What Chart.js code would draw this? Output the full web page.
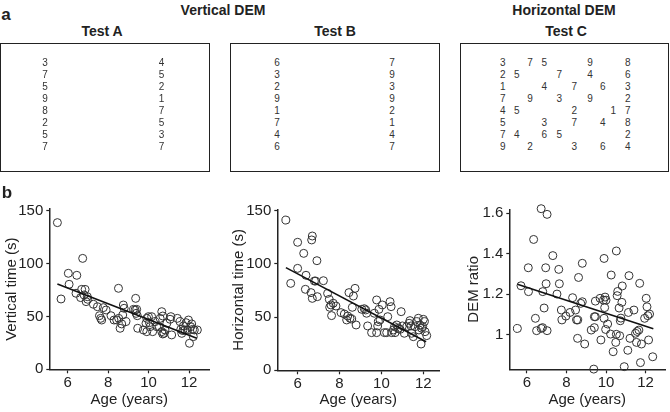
<!DOCTYPE html>
<html>
<head>
<meta charset="utf-8">
<script src="https://cdn.jsdelivr.net/npm/chart.js@4.4.0/dist/chart.umd.min.js"></script>
<style>
  body { margin: 0; background: #fff; }
  #fig { position: relative; width: 670px; height: 412px; overflow: hidden; font-family: "Liberation Sans", Arial, sans-serif; color: #222; }
  .lbl { position: absolute; transform: translate(-50%, -50%); white-space: nowrap; line-height: 1; }
  .panel { font-weight: bold; font-size: 17px; }
  .head { font-weight: bold; font-size: 14px; }
  .dig { font-size: 10px; color: #333; }
  .box { position: absolute; border: 1.5px solid #222; box-sizing: border-box; }
  canvas { position: absolute; }
</style>
</head>
<body>
<div id="fig">
  <canvas id="cvV" width="215" height="217" style="left:0px;top:195px"></canvas>
  <canvas id="cvH" width="220" height="217" style="left:225px;top:195px"></canvas>
  <canvas id="cvR" width="215" height="217" style="left:455px;top:195px"></canvas>
</div>
<script>
// ---- panel a: digit sheets ----
const testA = [[3,7,5,9,8,2,5,7], [4,5,2,1,7,5,3,7]];
const testB = [[6,3,2,9,1,7,4,6], [7,9,3,9,2,1,4,7]];
// Test C rows, one char per column slot (space = empty)
const testC = ["3 75  9  8", "25  7 4  6", "1  4 7 6 3", "7 9 3 9  2",
               "45   2  17", "5  3 7 4 8", "74 65    2", "9 2  3 6 4"];

// ---- panel b: scatter data ----
const xTicks = [6, 8, 10, 12];
const timeTicks = [0, 50, 100, 150];
const ratioTicks = [1, 1.2, 1.4, 1.6];

const ageV = [5.49,5.67,6.03,6.07,6.45,6.74,6.41,6.69,6.86,6.64,6.81,6.97,6.91,6.99,7.27,7.47,7.57,7.68,7.63,7.76,
  7.90,8.14,8.29,8.51,8.42,8.52,8.59,8.67,8.72,8.75,8.79,8.88,9.36,9.25,9.33,9.41,9.38,9.44,9.46,9.74,
  9.91,9.87,9.91,9.99,10.04,10.15,10.07,10.2,10.32,10.40,10.53,10.57,10.65,10.70,10.65,10.70,10.76,10.81,10.90,11.06,
  11.10,11.14,11.42,11.55,11.59,11.64,11.72,11.80,11.85,11.92,11.97,12.02,12.08,12.13,12.18,12.21,12.26,12.41,11.69];
const timeV = [138.7,66.5,90.8,80.4,88.9,104.9,71.9,75.6,75.6,67.8,70.3,68.7,64.0,66.2,61.5,59.2,50.7,46.6,48.2,58.3,
  56.1,50.7,46.6,76.6,46.6,48.2,38.8,42.9,51.4,60.8,57.7,45.1,67.1,56.7,56.1,56.7,52.9,50.7,38.8,37.2,
  35.6,43.5,48.2,49.8,44.1,49.8,40.3,35.6,45.1,40.3,40.3,48.2,54.5,50.4,35.6,33.4,34.0,37.2,43.5,47.3,
  49.8,32.5,48.2,45.1,37.8,34.0,41.0,37.2,44.1,37.2,46.6,24.6,40.3,42.9,37.8,30.9,37.2,37.2,36.6];
const fitAgeV = [5.49, 12.38];
const fitTimeV = [80.7, 29.3];

const ageH = [5.44,5.67,6.0,6.0,6.29,6.40,6.37,6.64,6.70,6.70,6.67,6.80,6.86,6.92,6.94,7.23,7.43,7.51,7.59,7.53,
  7.62,7.70,7.83,8.07,8.23,8.39,8.34,8.45,8.50,8.58,8.61,8.66,8.74,8.79,9.06,9.18,9.25,9.29,9.34,9.53,
  9.66,9.77,9.77,9.82,9.85,9.88,9.93,10.04,10.14,10.25,10.30,10.41,10.46,10.49,10.57,10.62,10.65,10.73,10.81,10.89,
  10.94,11.00,11.09,11.20,11.32,11.36,11.41,11.44,11.52,11.60,11.68,11.76,11.79,11.84,11.89,11.92,11.97,12.0,12.05,12.16,12.08];
const timeH = [141.2,81.7,120.3,95.8,109.9,89.3,76.1,73.0,67.6,126.2,122.5,83.9,83.9,103.0,69.2,84.2,72.3,66.7,61.4,59.2,
  51.4,63.0,60.4,54.2,52.9,51.0,47.3,73.0,48.9,48.2,59.2,69.8,77.0,42.6,57.3,57.9,56.7,53.6,41.7,35.4,
  53.6,66.1,35.4,41.7,45.7,57.3,47.3,61.4,35.4,35.4,50.4,64.5,59.8,35.4,37.9,41.0,35.4,42.6,39.5,38.5,
  55.1,41.7,34.8,41.0,44.2,46.7,41.7,34.8,31.6,41.0,45.7,48.9,37.9,42.6,24.7,39.5,41.0,47.9,45.7,32.6,36.3];
const fitAgeH = [5.44, 12.13];
const fitTimeH = [96.5, 26.9];

const ageR = [5.52,5.70,6.07,6.08,6.34,6.43,6.49,6.72,7.02,6.79,6.72,6.80,6.87,6.95,6.97,7.02,7.31,7.52,7.61,7.64,
  7.74,7.77,7.97,8.18,8.31,8.46,8.51,8.57,8.56,8.61,8.72,8.80,8.80,8.92,9.25,9.38,9.41,9.41,9.46,9.46,
  9.70,9.74,9.87,9.90,9.90,9.93,9.95,9.98,10.0,10.08,10.23,10.26,10.36,10.49,10.52,10.52,10.56,10.59,10.66,10.69,
  10.72,10.75,10.80,10.82,10.92,11.10,11.13,11.16,11.21,11.41,11.49,11.54,11.57,11.66,11.70,11.74,11.79,11.95,12.03,12.07,
  12.11,12.15,12.20,12.36];
const ratioR = [1.031,1.242,1.331,1.213,1.471,1.081,1.020,1.623,1.595,1.035,1.031,1.213,1.132,1.331,1.252,1.020,1.391,1.201,1.323,1.252,
  1.122,1.073,1.092,1.110,1.183,1.122,1.073,1.073,0.982,1.283,1.155,1.353,1.163,0.954,1.023,0.830,1.035,1.089,1.089,1.166,
  1.180,0.974,1.171,1.377,1.081,1.134,1.186,1.026,1.171,1.053,1.003,1.295,0.916,0.962,1.414,1.002,1.193,1.214,1.132,0.995,
  1.069,1.082,1.160,1.241,0.842,0.923,1.110,1.292,0.982,1.122,1.007,0.962,1.016,1.023,1.254,0.862,0.954,1.081,1.180,1.138,
  1.094,0.974,1.102,0.891];
const fitAgeR = [5.52, 12.39];
const fitRatioR = [1.249, 1.030];

// ---- draw panel a ----
const fig = document.getElementById('fig');
function label(text, x, y, cls) {
  const d = document.createElement('div');
  d.className = 'lbl ' + cls;
  d.style.left = x + 'px';
  d.style.top = y + 'px';
  d.textContent = text;
  fig.appendChild(d);
}
function box(x, y, w, h) {
  const d = document.createElement('div');
  d.className = 'box';
  d.style.left = x + 'px'; d.style.top = y + 'px';
  d.style.width = w + 'px'; d.style.height = h + 'px';
  fig.appendChild(d);
}

label('a', 6, 14, 'panel');
label('b', 7, 192, 'panel');
label('Vertical DEM', 223, 10, 'head');
label('Horizontal DEM', 564, 10, 'head');
label('Test A', 102, 31, 'head');
label('Test B', 335, 31, 'head');
label('Test C', 566, 31, 'head');
box(0, 43, 210, 129);
box(230, 43, 210, 129);
box(460, 43, 209, 129);

const rowY = i => 62.7 + 12.08 * i;
[[testA, 45, 161.5], [testB, 277, 392]].forEach(([cols, x0, x1]) => {
  cols[0].forEach((d, i) => label(String(d), x0, rowY(i), 'dig'));
  cols[1].forEach((d, i) => label(String(d), x1, rowY(i), 'dig'));
});
const colX = [502.7, 516.7, 530, 544.3, 559.3, 574.3, 590, 602.7, 613.3, 627.7];
testC.forEach((row, i) => {
  row.split('').forEach((ch, j) => { if (ch !== ' ') label(ch, colX[j], rowY(i), 'dig'); });
});

// ---- draw panel b ----
Chart.defaults.font.family = '"Liberation Sans", Arial, sans-serif';
Chart.defaults.color = '#222';

function pairs(xs, ys) { return xs.map((x, i) => ({x: x, y: ys[i]})); }

function makeScatter(id, xs, ys, fx, fy, yTicks, yTitle, g) {
  const ink = '#222';
  return new Chart(document.getElementById(id), {
    type: 'scatter',
    data: {
      datasets: [
        { data: pairs(fx, fy), showLine: true, borderColor: '#111', borderWidth: 1.6,
          pointRadius: 0, pointHoverRadius: 0 },
        { data: pairs(xs, ys), pointRadius: 4, pointHoverRadius: 4, borderWidth: 1,
          borderColor: '#333', backgroundColor: 'rgba(0,0,0,0)', clip: false }
      ]
    },
    options: {
      animation: false,
      responsive: false,
      devicePixelRatio: 1,
      layout: { padding: { top: g.padTop, right: g.padRight, left: 0, bottom: 0 } },
      plugins: { legend: { display: false }, tooltip: { enabled: false } },
      scales: {
        x: {
          type: 'linear', min: g.xMin, max: g.xMax,
          afterBuildTicks: s => { s.ticks = xTicks.map(v => ({value: v})); },
          afterFit: s => { s.height = g.xh; s.paddingLeft = 0; s.paddingRight = 0; },
          grid: { drawOnChartArea: false, tickLength: 4, tickColor: ink, tickWidth: 1.2 },
          border: { color: ink, width: 1.5 },
          ticks: { font: { size: 15 }, color: ink, padding: 1, maxRotation: 0 },
          title: { display: true, text: 'Age (years)', font: { size: 15 }, color: ink,
                   padding: { top: 0, bottom: 3.6 } }
        },
        y: {
          type: 'linear', min: g.yMin, max: g.yMax,
          afterBuildTicks: s => { s.ticks = yTicks.map(v => ({value: v})); },
          afterFit: s => { s.width = g.yw; s.paddingTop = 0; s.paddingBottom = 0; },
          grid: { drawOnChartArea: false, tickLength: 3, tickColor: ink, tickWidth: 1.2 },
          border: { color: ink, width: 1.5 },
          ticks: { font: { size: 15 }, color: ink, padding: 3, callback: v => String(v) },
          title: { display: true, text: yTitle, font: { size: 15 }, color: ink,
                   padding: { top: g.ytp, bottom: 0 } }
        }
      }
    }
  });
}

makeScatter('cvV', ageV, timeV, fitAgeV, fitTimeV, timeTicks, 'Vertical time (s)',
  { xMin: 5.09, xMax: 13.0, yMin: 0, yMax: 151.6, yw: 49.3, xh: 42.7, padTop: 14, padRight: 5.7, ytp: 2.6 });
makeScatter('cvH', ageH, timeH, fitAgeH, fitTimeH, timeTicks, 'Horizontal time (s)',
  { xMin: 5.03, xMax: 12.76, yMin: 0, yMax: 151.3, yw: 52.3, xh: 41.7, padTop: 14.3, padRight: 5.7, ytp: 4.9 });
makeScatter('cvR', ageR, ratioR, fitAgeR, fitRatioR, ratioTicks, 'DEM ratio',
  { xMin: 5.11, xMax: 12.98, yMin: 0.829, yMax: 1.62, yw: 54.3, xh: 42.7, padTop: 14.3, padRight: 0.7, ytp: 9.9 });
</script>
</body>
</html>
